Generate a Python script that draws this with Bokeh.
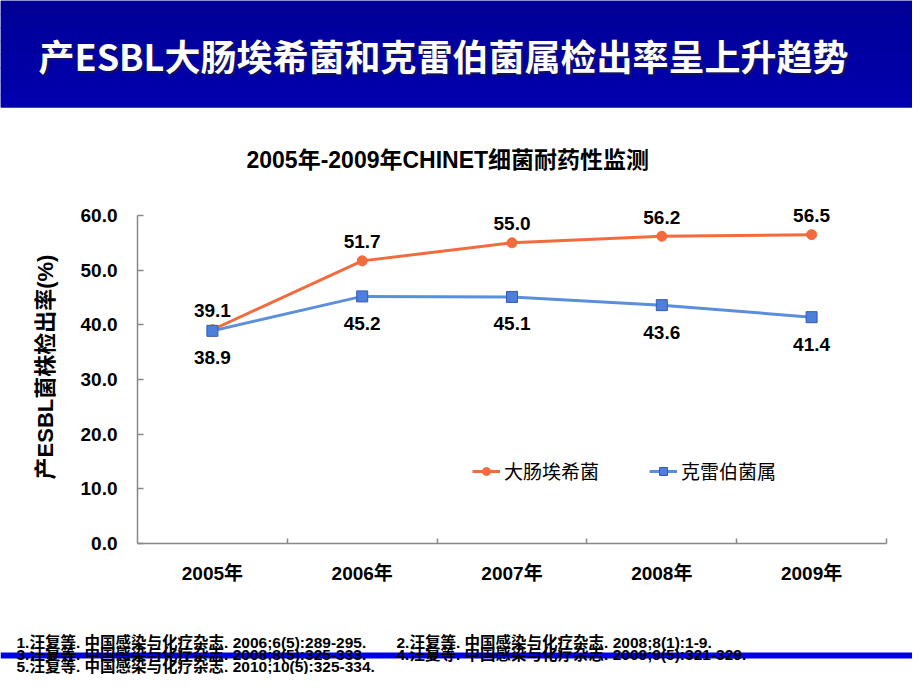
from bokeh.plotting import figure
from bokeh.layouts import column
from bokeh.models import (Range1d, FixedTicker, LinearAxis, Label, BoxAnnotation,
                          Legend, LegendItem, ColumnDataSource, LabelSet, NumeralTickFormatter)
from bokeh.core.properties import value
from bokeh.embed import file_html
from bokeh.resources import INLINE

# ---- data ----
years = ["2005年", "2006年", "2007年", "2008年", "2009年"]
ecoli = [39.1, 51.7, 55.0, 56.2, 56.5]
kleb = [38.9, 45.2, 45.1, 43.6, 41.4]
y_ticks = [0, 10, 20, 30, 40, 50, 60]
series_names = ["大肠埃希菌", "克雷伯菌属"]
slide_title = "产ESBL大肠埃希菌和克雷伯菌属检出率呈上升趋势"
chart_title = "2005年-2009年CHINET细菌耐药性监测"
y_label = "产ESBL菌株检出率(%)"
refs_left = ["1.汪复等. 中国感染与化疗杂志. 2006;6(5):289-295.",
             "3.汪复等. 中国感染与化疗杂志. 2008;8(5):325-333.",
             "5.汪复等. 中国感染与化疗杂志. 2010;10(5):325-334."]
refs_right = ["2.汪复等. 中国感染与化疗杂志. 2008;8(1):1-9.",
              "4.汪复等. 中国感染与化疗杂志. 2009;9(5):321-329."]

FONT = "Liberation Sans, Noto Sans CJK SC"
LATIN = "Liberation Sans"
CJK = "Noto Sans CJK SC"
ORANGE = "#F26B3D"
BLUE_LINE = "#5B8FDB"
BLUE_FILL = "#4F7FDC"
BLUE_EDGE = "#3558B8"
AXIS = "#888888"
W = 912
TOTAL_H = 674

F_LEFT, F_RIGHT, F_TOP, F_BOTTOM = 137, 886, 190, 543   # page pixels of the chart frame
AXIS_TOP = 215                                           # page pixel of 60.0
CHART_BOTTOM = 630
BAR_H = 107

# ---------------- header: title bar + chart title ----------------
top = figure(width=W, height=F_TOP, x_range=Range1d(0, W), y_range=Range1d(F_TOP, 0),
             x_axis_type=None, y_axis_type=None, min_border=0, frame_align=False,
             output_backend="svg", toolbar_location=None,
             background_fill_color="white", border_fill_color="white",
             outline_line_color=None)
top.add_layout(BoxAnnotation(left=0, right=W, top=0, bottom=BAR_H,
                             fill_color="#0000A3", fill_alpha=1, line_color=None))
bands = 8
c0, c1 = (0x00, 0x00, 0x98), (0x00, 0x00, 0xAE)
bh = BAR_H / bands
for i in range(bands):
    t = i / (bands - 1)
    col = "#%02x%02x%02x" % tuple(int(a + (b - a) * t) for a, b in zip(c0, c1))
    top.add_layout(BoxAnnotation(left=0, right=W, top=i * bh,
                                 bottom=min((i + 1) * bh + 1, BAR_H),
                                 fill_color=col, fill_alpha=1, line_color=None))
top.add_layout(Label(x=40, y=56, text=slide_title, text_color="#1a1a40", text_alpha=0.7,
                     text_font=CJK, text_font_size="36px", text_font_style="bold",
                     text_baseline="middle"))
top.add_layout(Label(x=38, y=54, text=slide_title, text_color="white",
                     text_font=CJK, text_font_size="36px", text_font_style="bold",
                     text_baseline="middle"))
top.add_layout(Label(x=246, y=159, text=chart_title, text_color="black", text_font=FONT,
                     text_font_size="23px", text_font_style="bold", text_baseline="middle"))

# ---------------- chart ----------------
CHART_H = CHART_BOTTOM - F_TOP
frame_h = F_BOTTOM - F_TOP
y_end = y_ticks[-1] * frame_h / (F_BOTTOM - AXIS_TOP)

xpos = [i + 0.5 for i in range(len(years))]

p = figure(frame_width=F_RIGHT - F_LEFT, frame_height=frame_h,
           min_border_left=F_LEFT, min_border_right=W - F_RIGHT,
           min_border_top=0, min_border_bottom=CHART_BOTTOM - F_BOTTOM,
           frame_align=False,
           x_range=Range1d(0, len(years)), y_range=Range1d(0, y_end),
           x_axis_type=None, y_axis_type=None,
           output_backend="svg", toolbar_location=None,
           background_fill_color="white", border_fill_color="white",
           outline_line_color=None)

yaxis = LinearAxis(ticker=FixedTicker(ticks=y_ticks),
                   formatter=NumeralTickFormatter(format="0.0"),
                   axis_label=y_label, bounds=(y_ticks[0], y_ticks[-1]),
                   major_tick_in=6, major_tick_out=0,
                   minor_tick_in=0, minor_tick_out=0,
                   axis_line_color=AXIS, major_tick_line_color=AXIS,
                   axis_line_width=1.5, major_tick_line_width=1.5,
                   major_label_text_font=FONT, major_label_text_font_size="19px",
                   major_label_text_font_style="bold", major_label_text_color="black",
                   major_label_standoff=20,
                   axis_label_text_font=FONT, axis_label_text_font_size="22px",
                   axis_label_text_font_style="bold", axis_label_text_color="black",
                   axis_label_standoff=20)
p.add_layout(yaxis, "left")

xaxis = LinearAxis(ticker=FixedTicker(ticks=xpos, minor_ticks=list(range(1, len(years) + 1))),
                   major_label_overrides={xv: yr for xv, yr in zip(xpos, years)},
                   major_tick_in=0, major_tick_out=0,
                   minor_tick_in=5, minor_tick_out=0,
                   axis_line_color=AXIS, minor_tick_line_color=AXIS,
                   axis_line_width=1.5, minor_tick_line_width=1.5,
                   major_label_text_font=FONT, major_label_text_font_size="19px",
                   major_label_text_font_style="bold", major_label_text_color="black",
                   major_label_standoff=19)
p.add_layout(xaxis, "below")

src = ColumnDataSource(dict(x=xpos, e=ecoli, k=kleb,
                            el=[f"{v:.1f}" for v in ecoli],
                            kl=[f"{v:.1f}" for v in kleb]))
l1 = p.line("x", "e", source=src, line_color=ORANGE, line_width=3)
m1 = p.scatter("x", "e", source=src, marker="circle", size=10,
               fill_color=ORANGE, line_color=ORANGE)
l2 = p.line("x", "k", source=src, line_color=BLUE_LINE, line_width=3)
m2 = p.scatter("x", "k", source=src, marker="square", size=11,
               fill_color=BLUE_FILL, line_color=BLUE_EDGE, line_width=1)

p.add_layout(LabelSet(x="x", y="e", text="el", source=src, y_offset=19,
                      text_align="center", text_baseline="middle",
                      text_font=value(LATIN), text_font_size=value("19px"),
                      text_font_style="bold", text_color="black"))
p.add_layout(LabelSet(x="x", y="k", text="kl", source=src, y_offset=-27,
                      text_align="center", text_baseline="middle",
                      text_font=value(LATIN), text_font_size=value("19px"),
                      text_font_style="bold", text_color="black"))

legend = Legend(items=[LegendItem(label=series_names[0], renderers=[l1, m1]),
                       LegendItem(label=series_names[1], renderers=[l2, m2])],
                location=(335, 59), orientation="horizontal",
                glyph_width=28, glyph_height=20, label_standoff=4, spacing=50,
                padding=0, margin=0,
                background_fill_alpha=0, border_line_alpha=0,
                label_text_font=CJK, label_text_font_size="19px",
                label_text_color="black")
p.add_layout(legend)

# ---------------- references ----------------
BOT_Y0 = CHART_BOTTOM
BOT_H = TOTAL_H - BOT_Y0
bot = figure(width=W, height=BOT_H, x_range=Range1d(0, W), y_range=Range1d(BOT_Y0 + BOT_H, BOT_Y0),
             x_axis_type=None, y_axis_type=None, min_border=0, frame_align=False,
             output_backend="svg", toolbar_location=None,
             background_fill_color="white", border_fill_color="white",
             outline_line_color=None)
bot.add_layout(BoxAnnotation(left=0, right=W, top=652, bottom=658,
                             fill_color="#0000EE", fill_alpha=1, line_color=None))
ref_y = [642, 654, 666]
for i, t in enumerate(refs_left):
    bot.add_layout(Label(x=16, y=ref_y[i], text=t, text_color="black", text_font=FONT,
                         text_font_size="15.5px", text_font_style="bold",
                         text_baseline="middle"))
for i, t in enumerate(refs_right):
    bot.add_layout(Label(x=396, y=ref_y[i], text=t, text_color="black", text_font=FONT,
                         text_font_size="15.5px", text_font_style="bold",
                         text_baseline="middle"))

layout = column(top, p, bot, spacing=0)
open("out.html", "w").write(file_html(layout, INLINE))
